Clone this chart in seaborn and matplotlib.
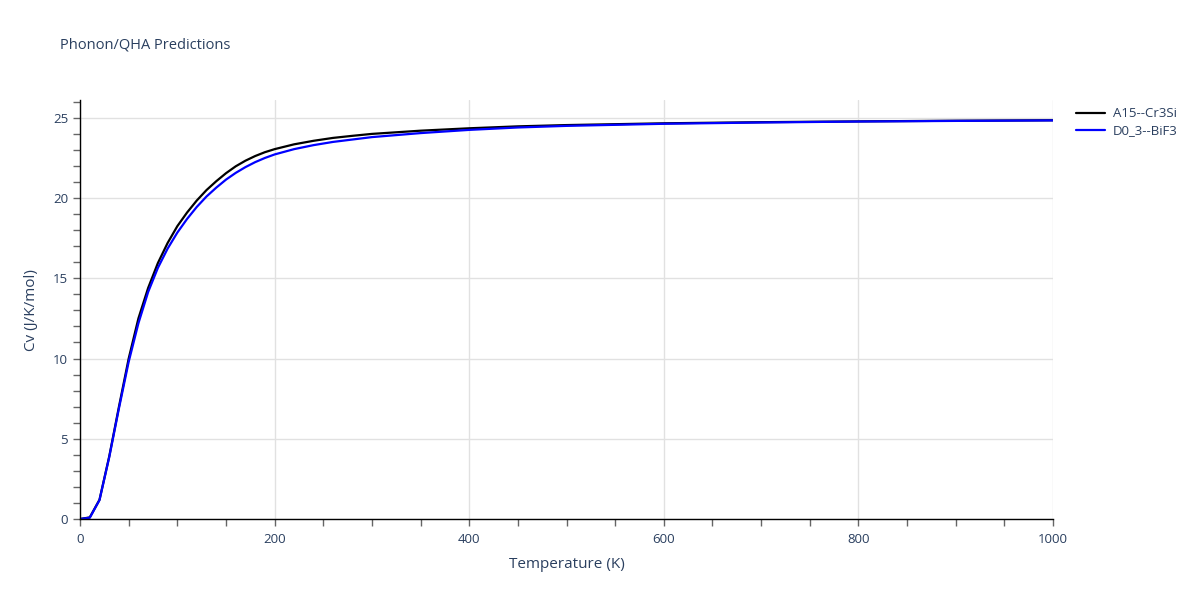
import numpy as np
import pandas as pd
import matplotlib
matplotlib.use("Agg")
import matplotlib.pyplot as plt
from matplotlib.ticker import MultipleLocator
import seaborn as sns

# Temperatures (K)
temps = [0, 10, 20, 30, 40, 50, 60, 70, 80, 90, 100, 110, 120, 130, 140, 150,
         160, 170, 180, 190, 200, 220, 240, 260, 280, 300, 350, 400, 450, 500,
         600, 700, 800, 900, 1000]

# Heat capacity Cv (J/K/mol)
cv_a15 = [0.0, 0.1, 1.2, 3.9, 7.0, 10.0, 12.5, 14.4, 15.95, 17.2, 18.25, 19.1,
          19.85, 20.5, 21.05, 21.55, 21.98, 22.33, 22.62, 22.86, 23.05, 23.35,
          23.57, 23.75, 23.88, 24.0, 24.2, 24.35, 24.47, 24.55, 24.66, 24.73,
          24.78, 24.82, 24.85]
cv_d03 = [0.0, 0.08, 1.18, 3.85, 6.9, 9.8, 12.2, 14.15, 15.65, 16.85, 17.85,
          18.7, 19.45, 20.1, 20.65, 21.15, 21.57, 21.93, 22.24, 22.5, 22.72,
          23.05, 23.3, 23.5, 23.65, 23.8, 24.05, 24.25, 24.4, 24.5, 24.63,
          24.71, 24.77, 24.81, 24.84]

labels = ["A15--Cr3Si", "D0_3--BiF3"]
colors = ["black", "blue"]

df = pd.DataFrame({
    "T": temps * 2,
    "Cv": cv_a15 + cv_d03,
    "structure": [labels[0]] * len(temps) + [labels[1]] * len(temps),
})

sns.set_style("white")
plt.rcParams["font.family"] = ["Open Sans", "DejaVu Sans"]
text_col = "#2a3f5f"

fig = plt.figure(figsize=(12, 6), dpi=100)
ax = fig.add_axes([0.0667, 0.135, 0.8108, 0.698])

sns.lineplot(data=df, x="T", y="Cv", hue="structure", palette=colors,
             linewidth=1.6, ax=ax, legend=False, sort=False)

ax.set_xlim(0, 1000)
ax.set_ylim(0, 26.1)
ax.xaxis.set_major_locator(MultipleLocator(200))
ax.xaxis.set_minor_locator(MultipleLocator(50))
ax.yaxis.set_major_locator(MultipleLocator(5))
ax.yaxis.set_minor_locator(MultipleLocator(1))
ax.grid(True, which="major", color="#e1e1e1", linewidth=1)
ax.set_axisbelow(True)

for side in ["top", "right"]:
    ax.spines[side].set_visible(False)
for side in ["left", "bottom"]:
    ax.spines[side].set_color("black")
    ax.spines[side].set_linewidth(1)

ax.tick_params(which="both", direction="out", color="#666666", length=5,
               width=1, labelsize=9.5, labelcolor=text_col,
               bottom=True, left=True)
ax.tick_params(axis="x", which="major", pad=5)

ax.set_xlabel("Temperature (K)", fontsize=11, color=text_col, labelpad=8)
ax.set_ylabel("Cv (J/K/mol)", fontsize=11, color=text_col, labelpad=10)

fig.text(0.05, 0.925, "Phonon/QHA Predictions", fontsize=10.5,
         color=text_col, va="center", ha="left")

handles = [plt.Line2D([], [], color=c, linewidth=1.6) for c in colors]
fig.legend(handles, labels, loc="upper left", bbox_to_anchor=(0.892, 0.83),
           frameon=False, fontsize=9.5, labelcolor=text_col,
           handlelength=2.2, handletextpad=0.6, labelspacing=0.3,
           borderaxespad=0)

fig.savefig("out.png", dpi=100)
